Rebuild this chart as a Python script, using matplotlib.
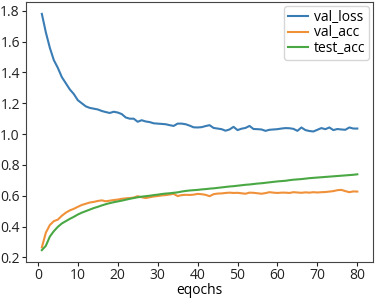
import matplotlib
matplotlib.use("Agg")
import matplotlib.pyplot as plt

# epochs 1..80
epochs = list(range(1, 81))

val_loss = [
    1.78, 1.66, 1.56, 1.48, 1.43, 1.37, 1.33, 1.29, 1.26, 1.22,
    1.20, 1.18, 1.17, 1.165, 1.16, 1.15, 1.143, 1.137, 1.145, 1.14,
    1.13, 1.108, 1.10, 1.10, 1.08, 1.09, 1.082, 1.078, 1.07, 1.068,
    1.066, 1.064, 1.058, 1.053, 1.068, 1.068, 1.064, 1.055, 1.044, 1.043,
    1.045, 1.052, 1.058, 1.04, 1.036, 1.032, 1.022, 1.03, 1.047, 1.026,
    1.035, 1.04, 1.053, 1.033, 1.032, 1.03, 1.021, 1.028, 1.03, 1.032,
    1.036, 1.039, 1.038, 1.034, 1.021, 1.043, 1.026, 1.02, 1.017, 1.028,
    1.039, 1.032, 1.043, 1.026, 1.033, 1.03, 1.028, 1.043, 1.036, 1.036,
]

val_acc = [
    0.265, 0.36, 0.41, 0.435, 0.445, 0.47, 0.49, 0.505, 0.515, 0.528,
    0.54, 0.548, 0.556, 0.56, 0.566, 0.57, 0.564, 0.568, 0.572, 0.575,
    0.58, 0.583, 0.585, 0.588, 0.597, 0.59, 0.585, 0.59, 0.595, 0.598,
    0.602, 0.604, 0.608, 0.612, 0.598, 0.604, 0.606, 0.605, 0.607, 0.612,
    0.61, 0.606, 0.597, 0.61, 0.614, 0.615, 0.618, 0.62, 0.618, 0.619,
    0.616, 0.613, 0.62, 0.619, 0.616, 0.613, 0.617, 0.623, 0.62, 0.618,
    0.62, 0.62, 0.618, 0.623, 0.621, 0.619, 0.622, 0.62, 0.623, 0.621,
    0.623, 0.624, 0.627, 0.63, 0.636, 0.638, 0.63, 0.623, 0.628, 0.627,
]

test_acc = [
    0.247, 0.275, 0.335, 0.37, 0.398, 0.42, 0.435, 0.45, 0.463, 0.478,
    0.49, 0.50, 0.51, 0.52, 0.528, 0.537, 0.545, 0.552, 0.558, 0.563,
    0.568, 0.574, 0.58, 0.585, 0.59, 0.594, 0.597, 0.60, 0.604, 0.607,
    0.611, 0.614, 0.616, 0.619, 0.622, 0.627, 0.631, 0.634, 0.636, 0.638,
    0.641, 0.643, 0.646, 0.648, 0.651, 0.654, 0.657, 0.66, 0.662, 0.665,
    0.668, 0.671, 0.673, 0.676, 0.679, 0.681, 0.684, 0.687, 0.69, 0.693,
    0.695, 0.697, 0.701, 0.704, 0.706, 0.708, 0.711, 0.714, 0.716, 0.718,
    0.72, 0.722, 0.724, 0.726, 0.728, 0.73, 0.732, 0.734, 0.736, 0.739,
]

plt.rcParams['font.family'] = ['Open Sans', 'DejaVu Sans']

fig = plt.figure(figsize=(3.78, 2.98), dpi=100)
ax = fig.add_axes([0.069, 0.121, 0.918, 0.872])

ax.plot(epochs, val_loss, color='#3a7db5', linewidth=1.5, label='val_loss')
ax.plot(epochs, val_acc, color='#f0913a', linewidth=1.5, label='val_acc')
ax.plot(epochs, test_acc, color='#4aa844', linewidth=1.5, label='test_acc')

ax.set_xticks([0, 10, 20, 30, 40, 50, 60, 70, 80])
ax.set_yticks([0.2, 0.4, 0.6, 0.8, 1.0, 1.2, 1.4, 1.6, 1.8])
ax.tick_params(labelsize=10, colors='#222222', pad=1.5, length=3)
for s in ax.spines.values():
    s.set_color('#444444')
ax.set_xlabel('eqochs', fontsize=10, labelpad=0)

ax.legend(loc='upper right', fontsize=10, handlelength=1.5, handletextpad=0.4,
          borderaxespad=0.3, labelspacing=0.05, borderpad=0.25)

fig.savefig('out.png', dpi=100)
